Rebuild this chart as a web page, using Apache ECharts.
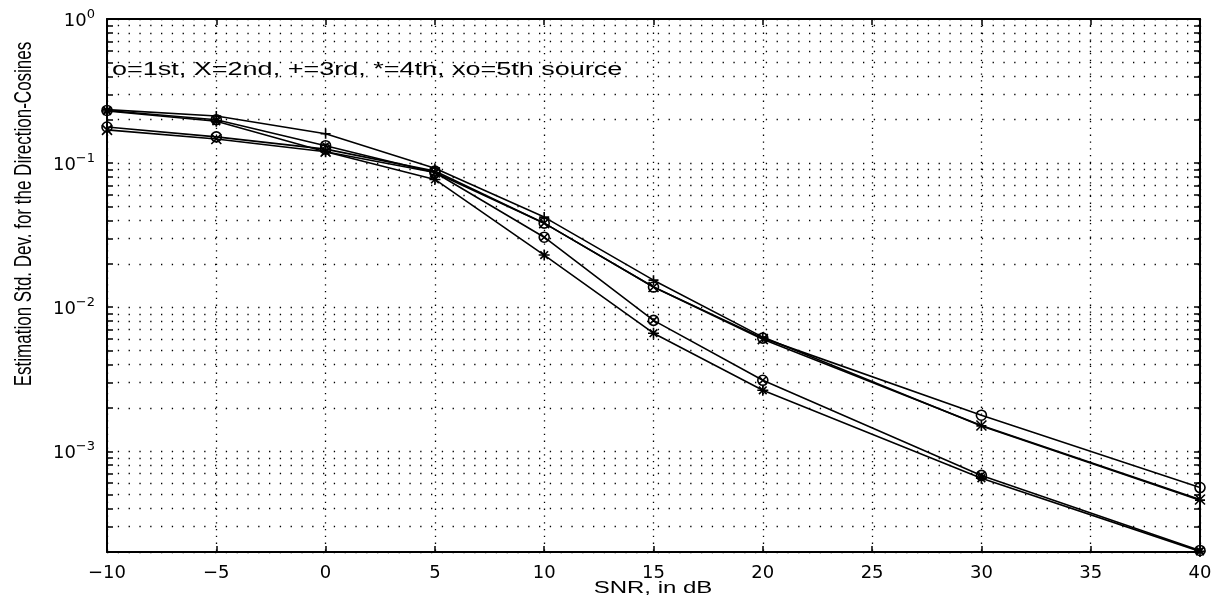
<!DOCTYPE html>
<html>
<head>
<meta charset="utf-8">
<script src="https://cdn.jsdelivr.net/npm/echarts@6/dist/echarts.min.js"></script>
<style>html,body{margin:0;padding:0;background:#fff;overflow:hidden}#c{width:1220px;height:604px}</style>
</head>
<body>
<div id="c"></div>
<script>
// ---- data ----
var snr = [-10, -5, 0, 5, 10, 15, 20, 30, 40];
var src1 = [0.178, 0.152, 0.125, 0.088, 0.0383, 0.0138, 0.0061, 0.00178, 0.00056];
var src2 = [0.170, 0.147, 0.120, 0.086, 0.0383, 0.0138, 0.0060, 0.00151, 0.000463];
var src3 = [0.235, 0.212, 0.160, 0.092, 0.0422, 0.0154, 0.0062, 0.00150, 0.000458];
var src4 = [0.230, 0.195, 0.120, 0.077, 0.0230, 0.0066, 0.00265, 0.00065, 0.000202];
var src5 = [0.232, 0.200, 0.132, 0.086, 0.0306, 0.0081, 0.00311, 0.00068, 0.000205];
var yMajorTicks = [1e-3, 1e-2, 1e-1, 1];
var yMinorMult = [1, 2, 3, 4, 5, 6, 7, 8, 9];
var annotation = 'o=1st, X=2nd, +=3rd, *=4th, xo=5th source';
var yTitle = 'Estimation Std. Dev. for the Direction-Cosines';
var xTitle = 'SNR, in dB';

var yTickVals = [];
[-4, -3, -2, -1].forEach(function (e) {
  yMinorMult.forEach(function (m) {
    var v = +(m * Math.pow(10, e)).toPrecision(3);
    if (v >= 2e-4 && v <= 1) yTickVals.push(v);
  });
});
yTickVals.push(1);

function pairs(arr) { return snr.map(function (x, i) { return [x, arr[i]]; }); }

var FONT = '"Liberation Sans", Arial, Helvetica, sans-serif';
var TFONT = '"DejaVu Sans", "Liberation Sans", sans-serif';
var symX = 'path://M0,0L10,10M10,0L0,10';
var symPlus = 'path://M5,0L5,10M0,5L10,5';
var symStar = 'path://M5,0L5,10M0,5L10,5M1.5,1.5L8.5,8.5M8.5,1.5L1.5,8.5';
var symXO = 'path://M10,5A5,5,0,1,1,0,5A5,5,0,1,1,10,5ZM1.5,1.5L8.5,8.5M8.5,1.5L1.5,8.5';

function mkSeries(name, arr, symbol, size) {
  return {
    name: name, type: 'line', data: pairs(arr),
    symbol: symbol, symbolSize: size, showSymbol: true,
    lineStyle: { color: '#000', width: 1.6 },
    itemStyle: { color: 'rgba(0,0,0,0)', borderColor: '#000', borderWidth: 1.6 },
    emphasis: { disabled: true }, animation: false, z: 3
  };
}

function supFmt(v) {
  var e = Math.round(Math.log10(v));
  var s = e < 0 ? '\u2212' + Math.abs(e) : String(e);
  return '{b|10}{s|' + s + '}';
}

var chart = echarts.init(document.getElementById('c'), null, { renderer: 'canvas' });
chart.setOption({
  animation: false,
  backgroundColor: '#fff',
  grid: { left: 107, right: 20, top: 19, bottom: 52, containLabel: false },
  xAxis: [{
    type: 'value', min: -10, max: 40, interval: 5, position: 'bottom',
    axisLine: { show: true, onZero: false, lineStyle: { color: '#000', width: 2 } },
    axisTick: { show: true, inside: true, length: 6, lineStyle: { color: '#000', width: 1.5 } },
    axisLabel: {
      color: '#000', fontSize: 18, fontFamily: TFONT, margin: 12,
      formatter: function (v) { return v < 0 ? '\u2212' + Math.abs(v) : String(v); }
    },
    splitLine: { show: true, lineStyle: { color: '#000', width: 1.3, type: [1.3, 5.5] } }
  }, {
    type: 'value', min: -10, max: 40, interval: 5, position: 'top',
    axisLine: { show: true, onZero: false, lineStyle: { color: '#000', width: 2 } },
    axisTick: { show: true, inside: true, length: 6, lineStyle: { color: '#000', width: 1.5 } },
    axisLabel: { show: false }, splitLine: { show: false }
  }],
  yAxis: [{
    type: 'log', logBase: 10, min: 2e-4, max: 1, position: 'left',
    axisLine: { show: true, onZero: false, lineStyle: { color: '#000', width: 2 } },
    axisTick: { show: true, inside: true, length: 6, customValues: yTickVals, lineStyle: { color: '#000', width: 1.5 } },
    axisLabel: {
      show: true, customValues: yMajorTicks, margin: 12, color: '#000',
      formatter: supFmt,
      rich: {
        b: { fontSize: 18, fontFamily: TFONT, color: '#000', lineHeight: 22, verticalAlign: 'bottom' },
        s: { fontSize: 13, fontFamily: TFONT, color: '#000', lineHeight: 13, verticalAlign: 'top' }
      }
    },
    splitLine: { show: true, lineStyle: { color: '#000', width: 1.3, type: [1.3, 9.5] } }
  }, {
    type: 'log', logBase: 10, min: 2e-4, max: 1, position: 'right',
    axisLine: { show: true, onZero: false, lineStyle: { color: '#000', width: 2 } },
    axisTick: { show: true, inside: true, length: 6, customValues: yTickVals, lineStyle: { color: '#000', width: 1.5 } },
    axisLabel: { show: false }, splitLine: { show: false }
  }],
  series: [
    mkSeries('1st', src1, 'circle', 10),
    mkSeries('2nd', src2, symX, 10),
    mkSeries('3rd', src3, symPlus, 10),
    mkSeries('4th', src4, symStar, 11),
    mkSeries('5th', src5, symXO, 10)
  ],
  graphic: [{
    type: 'text', x: 112, y: 70, scaleX: 1.5, z: 10,
    style: { text: annotation, font: '18px ' + FONT, fill: '#000', align: 'left', verticalAlign: 'middle' }
  }, {
    type: 'text', x: 653, y: 589, scaleX: 1.5, z: 10,
    style: { text: xTitle, font: '16px ' + FONT, fill: '#000', align: 'center', verticalAlign: 'middle' }
  }, {
    type: 'text', x: 24, y: 214, rotation: Math.PI / 2, scaleX: 1.0, scaleY: 1.45, z: 10,
    style: { text: yTitle, font: '17px ' + FONT, fill: '#000', align: 'center', verticalAlign: 'middle' }
  }]
});
</script>
</body>
</html>
